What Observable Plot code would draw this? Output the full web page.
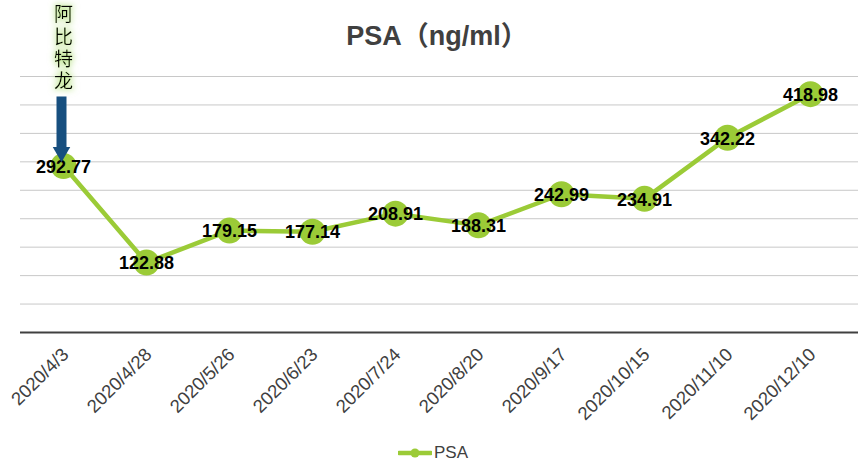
<!DOCTYPE html>
<html><head><meta charset="utf-8">
<script src="https://cdn.jsdelivr.net/npm/d3@7"></script>
<script src="https://cdn.jsdelivr.net/npm/@observablehq/plot@0.6"></script>
<style>
body{margin:0;background:#fff;}
#wrap{position:relative;width:866px;height:474px;font-family:"Liberation Sans",Arial,sans-serif;}
#title{position:absolute;left:0;top:14px;width:874px;text-align:center;font-weight:bold;font-size:27px;color:#404040;font-family:"Liberation Sans","Noto Sans CJK SC",sans-serif;}
#legend{position:absolute;left:0;top:443px;width:866px;display:flex;justify-content:center;align-items:center;font-size:17px;color:#404040;}
#legend span{margin-left:2px;}
</style></head>
<body>
<div id="wrap">
<div id="chart"></div>
<div id="title">PSA（ng/ml）</div>
<div id="legend"><svg width="34" height="12"><line x1="1" y1="6" x2="33" y2="6" stroke="#9BCB37" stroke-width="4.5" stroke-linecap="round"/><circle cx="17" cy="6" r="4.5" fill="#9BCB37"/></svg><span>PSA</span></div>
</div>
<script>
const dates = ["2020/4/3","2020/4/28","2020/5/26","2020/6/23","2020/7/24","2020/8/20","2020/9/17","2020/10/15","2020/11/10","2020/12/10"];
const psa = [292.77,122.88,179.15,177.14,208.91,188.31,242.99,234.91,342.22,418.98];
const gridTicks = [50,100,150,200,250,300,350,400,450];
const drugLabel = ["阿比特龙"];
const drugDate = "2020/4/3";
const arrowFrom = 414, arrowTo = 324, arrowHead = 317, labelAt = 501;

const data = dates.map((d,i)=>({date:d, value:psa[i]}));
const green = "#9BCB37";

const chart = Plot.plot({
  width: 866, height: 474,
  marginTop: 76, marginBottom: 142, marginLeft: 20, marginRight: 8,
  style: {fontFamily: "Liberation Sans, Arial, sans-serif", background: "#fff", overflow: "visible"},
  x: {type: "point", domain: dates, padding: 0.5, insetRight: 5},
  y: {domain: [0, 450]},
  marks: [
    Plot.ruleY(gridTicks, {stroke: "#c8c8c8", strokeWidth: 1}),
    Plot.ruleY([0], {stroke: "#404040", strokeWidth: 2}),
    Plot.axisY({ticks: [], label: null, tickSize: 0}),
    Plot.axisX({tickRotate: -45, tickSize: 0, tickPadding: 19, fontSize: 18.5, fill: "#404040", label: null, dx: 2}),
    Plot.line(data, {x: "date", y: "value", stroke: green, strokeWidth: 4.5, strokeLinejoin: "round"}),
    Plot.dot(data, {x: "date", y: "value", r: 13, fill: green, stroke: null}),
    Plot.text(data, {x: "date", y: "value", text: d => d.value.toFixed(2), fontSize: 18, fontWeight: "bold", fill: "#000", dy: 1}),
    Plot.ruleX([drugDate], {y1: arrowFrom, y2: arrowTo, stroke: "#174F7F", strokeWidth: 10, dx: -2}),
    Plot.dot([drugDate], {x: d => d, y: arrowHead, symbol: "triangle", rotate: 180, r: 6.5, fill: "#174F7F", stroke: null, dx: -2}),
    Plot.text(drugLabel, {x: () => drugDate, y: labelAt, text: d => d.split("").join("\n"), lineHeight: 1.16, fontSize: 19, fill: "#000", fontFamily: "Noto Sans CJK SC", ariaDescription: "druglabel"})
  ]
});
document.getElementById("chart").appendChild(chart);
const svg = d3.select(chart);
svg.insert("defs", ":first-child").html(`<filter id="glow" filterUnits="userSpaceOnUse" x="0" y="0" width="200" height="200">
 <feMorphology in="SourceAlpha" operator="dilate" radius="1" result="d"/>
 <feGaussianBlur in="d" stdDeviation="3" result="b"/>
 <feFlood flood-color="#a9dc6c" flood-opacity="0.65"/>
 <feComposite in2="b" operator="in" result="g"/>
 <feMerge><feMergeNode in="g"/><feMergeNode in="SourceGraphic"/></feMerge>
</filter>`);
svg.selectAll('g[aria-description="druglabel"]').attr("filter", "url(#glow)");
</script>
</body></html>
